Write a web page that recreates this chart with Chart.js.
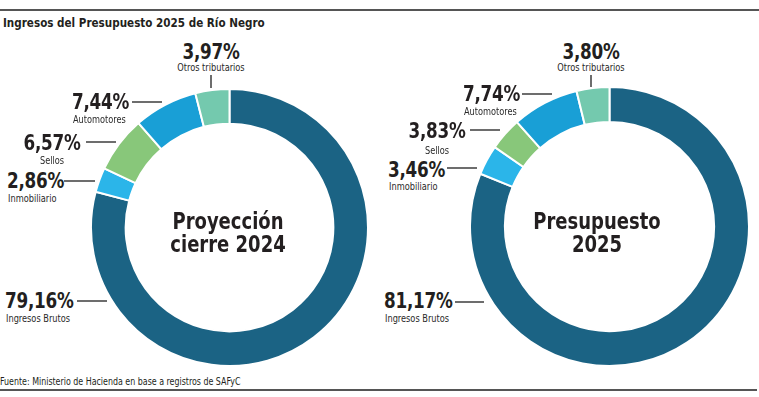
<!DOCTYPE html>
<html><head><meta charset="utf-8">
<script src="https://cdn.jsdelivr.net/npm/chart.js@4"></script>
<style>
html,body{margin:0;padding:0;background:#fff;}
#page{position:relative;width:759px;height:397px;overflow:hidden;font-family:"Liberation Sans Narrow","DejaVu Sans Condensed",sans-serif;color:#231f20;}
.abs{position:absolute;white-space:nowrap;line-height:1;transform-origin:0 0;}
.pct{font-weight:bold;font-size:22px;letter-spacing:-0.3px;}
.sub{font-size:10.5px;color:#2a2a2a;}
.ln{position:absolute;background:#6d6d6d;}
.ctr{position:absolute;font-weight:bold;font-size:23px;line-height:23px;text-align:center;white-space:nowrap;transform-origin:0 0;}
canvas{position:absolute;}
</style></head>
<body><div id="page">
<div class="ln" style="left:0;top:9px;width:759px;height:2px;background:#555"></div>
<div class="abs" style="left:3px;top:16px;font-weight:bold;font-size:13px;transform:scaleX(0.89)">Ingresos del Presupuesto 2025 de Río Negro</div>
<canvas id="c1" width="279" height="279" style="left:90px;top:88px"></canvas>
<canvas id="c2" width="281" height="281" style="left:469px;top:86px"></canvas>
<div class="abs" style="left:0;top:377px;font-size:10px;transform:scaleX(0.88)">Fuente: Ministerio de Hacienda en base a registros de SAFyC</div>
<div class="ln" style="left:0;top:389px;width:757px;height:2px;background:#555"></div>
</div>
<script>
const categories = ["Ingresos Brutos","Inmobiliario","Sellos","Automotores","Otros tributarios"];
const values2024 = [79.16, 2.86, 6.57, 7.44, 3.97];
const values2025 = [81.17, 3.46, 3.83, 7.74, 3.80];
const centerTitles = [["Proyección","cierre 2024"],["Presupuesto","2025"]];

const colors = ["#1b6384","#2bb5e9","#88c77a","#199fd6","#74c9ae"];

// label layout (positions only)
const layoutLeft = [
  {x:5, align:"left", pb:309, sb:322, line:[77,301,107,301]},
  {x:7, align:"left", pb:189, sb:202, line:[64,181,95,181]},
  {x:52, align:"center", pb:151, sb:164, line:[86,142,116,142]},
  {x:72, align:"left", pb:110, sb:123, line:[132,102,162,102]},
  {x:211, align:"center", pb:60, sb:71, line:[211,75,211,88]}
];
const layoutRight = [
  {x:384, align:"left", pb:309, sb:322, line:[455,302,484,302]},
  {x:388, align:"left", pb:178, sb:190, line:[447,168,477,168]},
  {x:437, align:"center", pb:139, sb:154, line:[470,130,500,130]},
  {x:463, align:"left", pb:102, sb:115, line:[522,94,552,94]},
  {x:591, align:"center", pb:60, sb:71, line:[591,75,591,87]}
];
const centerPos = [{x:228, top:210}, {x:597, top:210}];
const SX = {pct:0.85, sub:0.87, ctr:0.87};

const page = document.getElementById("page");
function fmt(v){ return v.toFixed(2).replace(".", ",") + "%"; }
function addText(cls, txt, x, baseline, size, align){
  const d = document.createElement("div");
  d.className = "abs " + cls;
  d.textContent = txt;
  d.style.left = x + "px";
  d.style.top = (baseline - 0.8465*size) + "px";
  d.style.transform = "scaleX(" + SX[cls] + ")" + (align === "center" ? " translateX(-50%)" : "");
  page.appendChild(d);
}
function addLine(l){
  const d = document.createElement("div");
  d.className = "ln";
  const [x1,y1,x2,y2] = l;
  if (y1 === y2){ d.style.left = x1+"px"; d.style.top = (y1-0.75)+"px"; d.style.width=(x2-x1)+"px"; d.style.height="1.5px"; }
  else { d.style.left = (x1-0.75)+"px"; d.style.top = y1+"px"; d.style.height=(y2-y1)+"px"; d.style.width="1.5px"; }
  page.appendChild(d);
}
function addLabels(values, layout){
  values.forEach((v,i)=>{
    const L = layout[i];
    addText("pct", fmt(v), L.x, L.pb, 22, L.align);
    addText("sub", categories[i], L.align==="center"?L.x:L.x+1, L.sb, 10.5, L.align);
    addLine(L.line);
  });
}
addLabels(values2024, layoutLeft);
addLabels(values2025, layoutRight);
centerTitles.forEach((t,i)=>{
  const d = document.createElement("div");
  d.className = "ctr";
  d.innerHTML = t.join("<br>");
  d.style.left = centerPos[i].x + "px";
  d.style.top = centerPos[i].top + "px";
  d.style.transform = "scaleX(" + SX.ctr + ") translateX(-50%)";
  page.appendChild(d);
});

function makeChart(id, values){
  new Chart(document.getElementById(id), {
    type: "doughnut",
    data: { labels: categories, datasets: [{ data: values, backgroundColor: colors, borderColor: "#ffffff", borderWidth: 2 }] },
    options: {
      responsive: false, animation: false, cutout: "75%",
      layout: { padding: 0 },
      plugins: { legend: { display: false }, tooltip: { enabled: false } }
    }
  });
}
makeChart("c1", values2024);
makeChart("c2", values2025);
</script>
</body></html>
